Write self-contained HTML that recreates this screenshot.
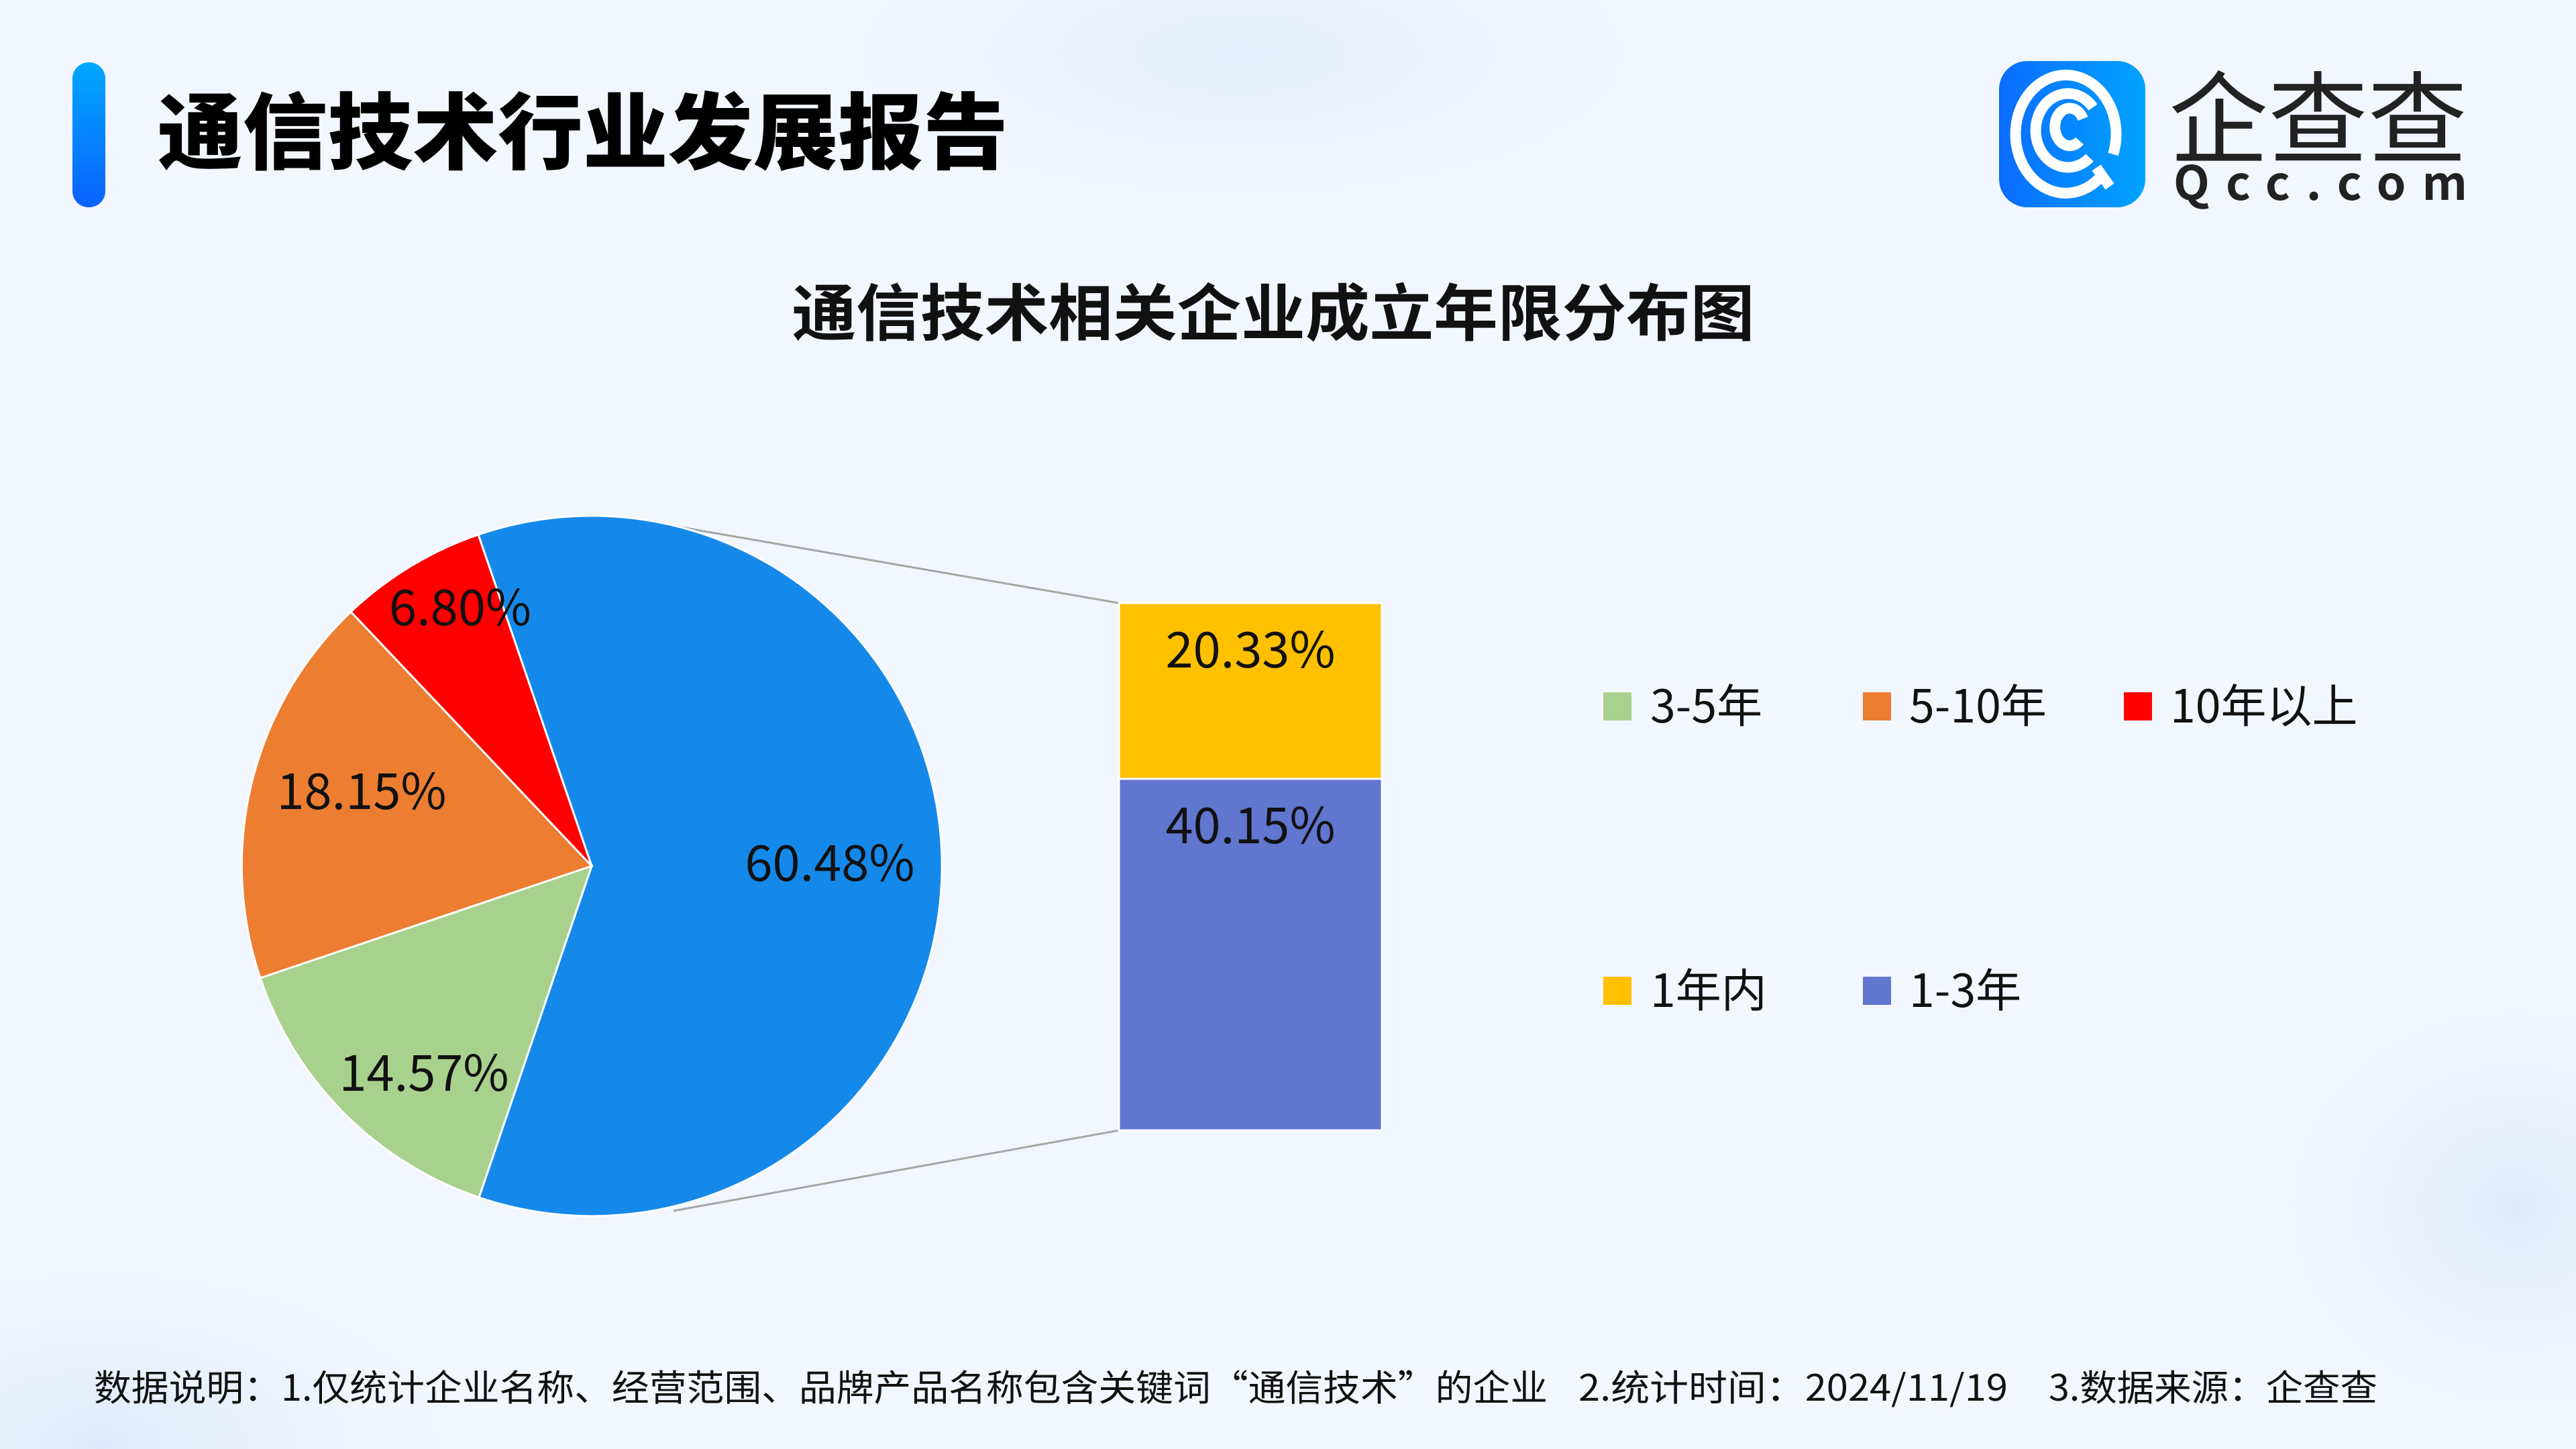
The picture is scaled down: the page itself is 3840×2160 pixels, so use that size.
<!DOCTYPE html>
<html><head><meta charset="utf-8"><style>
html,body{margin:0;padding:0;width:3840px;height:2160px;overflow:hidden;background:#f1f6fe;}
svg{display:block}
text{font-family:"Noto Sans CJK SC","Liberation Sans",sans-serif;}
.l{font-family:"Liberation Sans","Noto Sans CJK SC",sans-serif;}
</style></head><body>
<svg width="3840" height="2160" viewBox="0 0 3840 2160" xmlns="http://www.w3.org/2000/svg">
<defs>
<linearGradient id="bar" x1="0" y1="0" x2="0" y2="1"><stop offset="0" stop-color="#00a8ff"/><stop offset="1" stop-color="#0a62ff"/></linearGradient>
<linearGradient id="logo" x1="0" y1="0" x2="1" y2="0"><stop offset="0" stop-color="#0a6cff"/><stop offset="1" stop-color="#00a4ff"/></linearGradient>
<radialGradient id="blob1" cx="0.5" cy="0.5" r="0.5"><stop offset="0" stop-color="#e3edfc"/><stop offset="1" stop-color="#f1f6fe" stop-opacity="0"/></radialGradient>
<radialGradient id="blob2" cx="0.5" cy="0.5" r="0.5"><stop offset="0" stop-color="#dde9fb"/><stop offset="1" stop-color="#f1f6fe" stop-opacity="0"/></radialGradient>
</defs>
<rect width="3840" height="2160" fill="#f2f6fe"/>
<ellipse cx="1850" cy="80" rx="700" ry="260" fill="url(#blob1)"/>
<ellipse cx="150" cy="2150" rx="600" ry="300" fill="url(#blob2)"/>
<ellipse cx="3750" cy="1800" rx="400" ry="350" fill="url(#blob2)"/>
<rect x="108" y="93" width="49" height="216" rx="24" fill="url(#bar)"/>
<text x="235" y="242" font-size="124" font-weight="900" textLength="1268" lengthAdjust="spacingAndGlyphs" fill="#000">通信技术行业发展报告</text>
<rect x="2980" y="91" width="218" height="218" rx="42" fill="url(#logo)"/>
<g fill="none" stroke="#fff" stroke-width="16" stroke-linecap="butt">
<path d="M3130 265 A75 88 0 1 1 3150 230"/>
<path d="M3115 235 A48 55 0 1 1 3120 160"/>
<path d="M3100 210 A22 28 0 1 1 3105 177"/>
<path d="M3125 250 L3145 278"/>
</g>
<text x="3233" y="232" font-size="150" fill="#222" textLength="445" lengthAdjust="spacingAndGlyphs">企查查</text>
<text x="3240" y="298" font-size="70" font-weight="bold" fill="#222" textLength="438" lengthAdjust="spacing">Qcc.com</text>
<text x="1898" y="500" font-size="92" font-weight="bold" text-anchor="middle" textLength="1435" lengthAdjust="spacingAndGlyphs" fill="#111">通信技术相关企业成立年限分布图</text>
<line x1="1004" y1="784" x2="1668" y2="899" stroke="#a6a6a6" stroke-width="3"/>
<line x1="1004" y1="1805" x2="1668" y2="1685" stroke="#a6a6a6" stroke-width="3"/>
<g stroke="#fff" stroke-width="3">
<path d="M882 1291 L713 797 A522 522 0 1 1 714 1785 Z" fill="#1589ea"/>
<path d="M882 1291 L713 797 A522 522 0 0 0 523 912 Z" fill="#ff0000"/>
<path d="M882 1291 L523 912 A522 522 0 0 0 388 1458 Z" fill="#ed7d31"/>
<path d="M882 1291 L388 1458 A522 522 0 0 0 714 1785 Z" fill="#a9d18e"/>
<rect x="1668" y="899" width="392" height="262" fill="#ffc000"/>
<rect x="1668" y="1161" width="392" height="524" fill="#6076cf"/>
</g>
<g font-size="74" fill="#111" text-anchor="middle">
<text x="686" y="932">6.80%</text>
<text x="539" y="1206">18.15%</text>
<text x="632" y="1626">14.57%</text>
<text x="1237" y="1313">60.48%</text>
<text x="1864" y="995">20.33%</text>
<text x="1864" y="1257">40.15%</text>
</g>
<g font-size="68" fill="#111">
<rect x="2390" y="1032" width="42" height="42" fill="#a9d18e"/><text x="2460" y="1077">3-5年</text>
<rect x="2777" y="1032" width="42" height="42" fill="#ed7d31"/><text x="2846" y="1077">5-10年</text>
<rect x="3166" y="1032" width="42" height="42" fill="#ff0000"/><text x="3235" y="1077">10年以上</text>
<rect x="2390" y="1456" width="42" height="42" fill="#ffc000"/><text x="2460" y="1501">1年内</text>
<rect x="2777" y="1456" width="42" height="42" fill="#6076cf"/><text x="2846" y="1501">1-3年</text>
</g>
<g font-size="54" fill="#111">
<text x="140" y="2088" textLength="2167" lengthAdjust="spacingAndGlyphs">数据说明：1.仅统计企业名称、经营范围、品牌产品名称包含关键词“通信技术”的企业</text>
<text x="2353" y="2088" textLength="640" lengthAdjust="spacingAndGlyphs">2.统计时间：2024/11/19</text>
<text x="3054" y="2088" textLength="490" lengthAdjust="spacingAndGlyphs">3.数据来源：企查查</text>
</g>
</svg>
</body></html>
